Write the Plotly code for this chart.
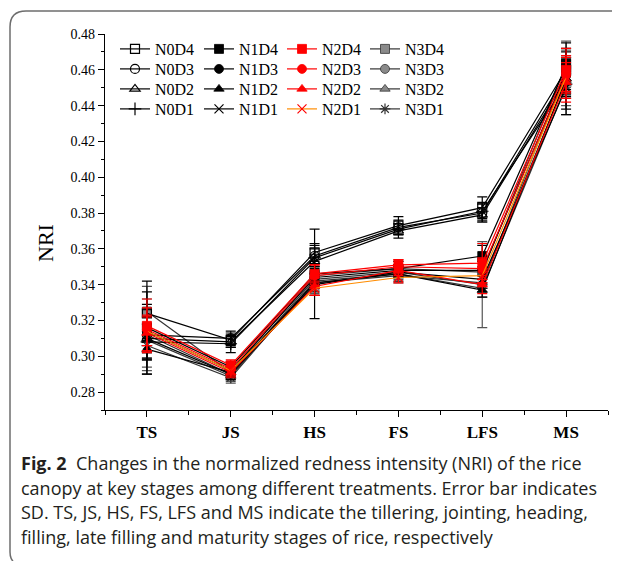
import plotly.graph_objects as go

stages = ["TS", "JS", "HS", "FS", "LFS", "MS"]

# mean NRI values per treatment
N0D4 = [0.324, 0.309, 0.358, 0.373, 0.383, 0.460]
N0D3 = [0.312, 0.310, 0.356, 0.372, 0.380, 0.457]
N0D2 = [0.310, 0.308, 0.353, 0.370, 0.379, 0.455]
N0D1 = [0.308, 0.307, 0.355, 0.371, 0.381, 0.452]
N1D4 = [0.316, 0.294, 0.346, 0.349, 0.356, 0.462]
N1D3 = [0.314, 0.292, 0.344, 0.348, 0.348, 0.458]
N1D2 = [0.304, 0.291, 0.341, 0.346, 0.337, 0.455]
N1D1 = [0.310, 0.290, 0.340, 0.347, 0.343, 0.450]
N2D4 = [0.317, 0.295, 0.346, 0.351, 0.352, 0.460]
N2D3 = [0.315, 0.293, 0.345, 0.350, 0.349, 0.457]
N2D2 = [0.313, 0.291, 0.339, 0.348, 0.340, 0.453]
N2D1 = [0.314, 0.292, 0.338, 0.344, 0.345, 0.456]
N3D4 = [0.325, 0.291, 0.345, 0.349, 0.347, 0.463]
N3D3 = [0.312, 0.290, 0.343, 0.347, 0.340, 0.459]
N3D2 = [0.309, 0.289, 0.341, 0.345, 0.341, 0.454]
N3D1 = [0.306, 0.288, 0.342, 0.346, 0.338, 0.451]

# standard deviations
SD_N0D4 = [0.012, 0.004, 0.005, 0.005, 0.006, 0.012]
SD_N0D3 = [0.010, 0.004, 0.006, 0.004, 0.005, 0.010]
SD_N0D2 = [0.008, 0.003, 0.004, 0.004, 0.004, 0.011]
SD_N0D1 = [0.018, 0.005, 0.005, 0.003, 0.005, 0.014]
SD_N1D4 = [0.026, 0.003, 0.025, 0.004, 0.006, 0.013]
SD_N1D3 = [0.015, 0.003, 0.006, 0.003, 0.005, 0.012]
SD_N1D2 = [0.006, 0.003, 0.005, 0.004, 0.004, 0.010]
SD_N1D1 = [0.012, 0.003, 0.006, 0.003, 0.005, 0.015]
SD_N2D4 = [0.015, 0.003, 0.005, 0.003, 0.011, 0.012]
SD_N2D3 = [0.012, 0.004, 0.006, 0.004, 0.006, 0.010]
SD_N2D2 = [0.010, 0.003, 0.005, 0.003, 0.005, 0.011]
SD_N2D1 = [0.008, 0.003, 0.004, 0.003, 0.004, 0.012]
SD_N3D4 = [0.014, 0.004, 0.006, 0.004, 0.006, 0.013]
SD_N3D3 = [0.020, 0.003, 0.005, 0.003, 0.024, 0.012]
SD_N3D2 = [0.010, 0.003, 0.006, 0.004, 0.005, 0.014]
SD_N3D1 = [0.012, 0.003, 0.005, 0.003, 0.005, 0.016]

# name, values, sd, line color, symbol, fill, marker line, error colour, legend column, legend row
series = [
    ("N3D4", N3D4, SD_N3D4, "#333333", "square", "#8a8a8a", "#333333", "#555555", 3, 0),
    ("N3D3", N3D3, SD_N3D3, "#333333", "circle", "#8a8a8a", "#333333", "#555555", 3, 1),
    ("N3D2", N3D2, SD_N3D2, "#333333", "triangle-up", "#8a8a8a", "#333333", "#555555", 3, 2),
    ("N3D1", N3D1, SD_N3D1, "#333333", "asterisk-open", "#333333", "#333333", "#555555", 3, 3),
    ("N0D4", N0D4, SD_N0D4, "black", "square-open", "black", "black", "black", 0, 0),
    ("N0D3", N0D3, SD_N0D3, "black", "circle-open", "black", "black", "black", 0, 1),
    ("N0D2", N0D2, SD_N0D2, "black", "triangle-up-open", "black", "black", "black", 0, 2),
    ("N0D1", N0D1, SD_N0D1, "black", "cross-thin-open", "black", "black", "black", 0, 3),
    ("N1D4", N1D4, SD_N1D4, "black", "square", "black", "black", "black", 1, 0),
    ("N1D3", N1D3, SD_N1D3, "black", "circle", "black", "black", "black", 1, 1),
    ("N1D2", N1D2, SD_N1D2, "black", "triangle-up", "black", "black", "black", 1, 2),
    ("N1D1", N1D1, SD_N1D1, "black", "x-thin-open", "black", "black", "black", 1, 3),
    ("N2D4", N2D4, SD_N2D4, "red", "square", "red", "red", "red", 2, 0),
    ("N2D3", N2D3, SD_N2D3, "red", "circle", "red", "red", "red", 2, 1),
    ("N2D2", N2D2, SD_N2D2, "red", "triangle-up", "red", "red", "red", 2, 2),
    ("N2D1", N2D1, SD_N2D1, "#ff8c00", "x-thin-open", "red", "red", "red", 2, 3),
]

xs = list(range(len(stages)))

OFF = 8  # page body margin offset
W, H = 620, 561
L, T = 97, 26
R = W - 600
B = H - 402
pw, ph = W - L - R, H - T - B


def px(d):
    return (d - OFF - L) / pw


def py(d):
    return (H - B - (d - OFF)) / ph


serif = "Liberation Serif, Times New Roman, serif"
legfont = dict(family=serif, size=16, color="black")
col_left = [115, 199, 282, 365]
row_center = [45, 65, 85, 105]

fig = go.Figure()
layout_legends = {}
for i, (name, vals, sd, lc, sym, mfill, mline, ec, col, row) in enumerate(series):
    open_sym = sym.endswith("open")
    lname = "legend" if i == 0 else f"legend{i + 1}"
    fig.add_trace(go.Scatter(
        x=xs, y=vals, name=name, mode="lines+markers", legend=lname,
        line=dict(color=lc, width=1.2),
        marker=dict(symbol=sym, size=9, color=mfill,
                    line=dict(color=mline, width=1.2 if open_sym else 0.8)),
        error_y=dict(type="data", array=sd, visible=True, color=ec,
                     thickness=1.2, width=5),
    ))
    layout_legends[lname] = dict(
        orientation="v", xanchor="left", yanchor="top",
        x=px(col_left[col]), y=py(row_center[row] - 13),
        bgcolor="rgba(0,0,0,0)", borderwidth=0, font=legfont, itemwidth=30,
    )

fig.update_layout(
    width=W, height=H,
    margin=dict(l=L, r=R, t=T, b=B),
    paper_bgcolor="white", plot_bgcolor="white",
    showlegend=True,
    xaxis=dict(
        range=[-0.5, 5.5], tickmode="array", tickvals=xs, ticktext=stages,
        showline=True, linecolor="black", linewidth=1.2, mirror=False,
        ticks="outside", ticklen=6, tickwidth=1.2, tickcolor="black",
        showgrid=False, zeroline=False,
        tickfont=dict(family=serif, size=17, color="black", weight="bold"),
        minor=dict(tick0=0.5, dtick=1, ticks="outside", ticklen=4, tickwidth=1.2, tickcolor="black", showgrid=False),
    ),
    yaxis=dict(
        range=[0.27, 0.48], dtick=0.02, tick0=0, tickformat=".2f",
        showline=True, linecolor="black", linewidth=1.2, mirror=False,
        ticks="outside", ticklen=6, tickwidth=1.2, tickcolor="black",
        showgrid=False, zeroline=False,
        tickfont=dict(family=serif, size=14, color="black"),
        minor=dict(dtick=0.01, ticks="outside", ticklen=3, tickwidth=1.2, tickcolor="black", showgrid=False),
    ),
    **layout_legends,
)

fig.add_annotation(text="NRI", xref="paper", yref="paper", x=px(45), y=py(243),
                   showarrow=False, textangle=-90, xanchor="center", yanchor="middle",
                   font=dict(family=serif, size=22, color="black"))

caption = [
    "<b>Fig. 2</b>\u00a0 Changes in the normalized redness intensity (NRI) of the rice",
    "canopy at key stages among different treatments. Error bar indicates",
    "SD. TS, JS, HS, FS, LFS and MS indicate the tillering, jointing, heading,",
    "filling, late filling and maturity stages of rice, respectively",
]
cap_y = [463, 488, 512, 537]
for line, yy in zip(caption, cap_y):
    fig.add_annotation(text=line, xref="paper", yref="paper", x=px(19), y=py(yy),
                       showarrow=False, xanchor="left", yanchor="middle",
                       font=dict(family="Open Sans, Noto Sans, sans-serif", size=18, color="#231f20"))

# frame (top and left edges with rounded corners)
path = (f"M {px(628)},{py(11)} L {px(26)},{py(11)} "
        f"Q {px(10)},{py(11)} {px(10)},{py(27)} "
        f"L {px(10)},{py(552)} Q {px(10)},{py(560)} {px(15)},{py(563)}")
fig.add_shape(type="path", path=path, xref="paper", yref="paper",
              line=dict(color="#6d6d6d", width=1.5))

fig.write_html("out.html")
